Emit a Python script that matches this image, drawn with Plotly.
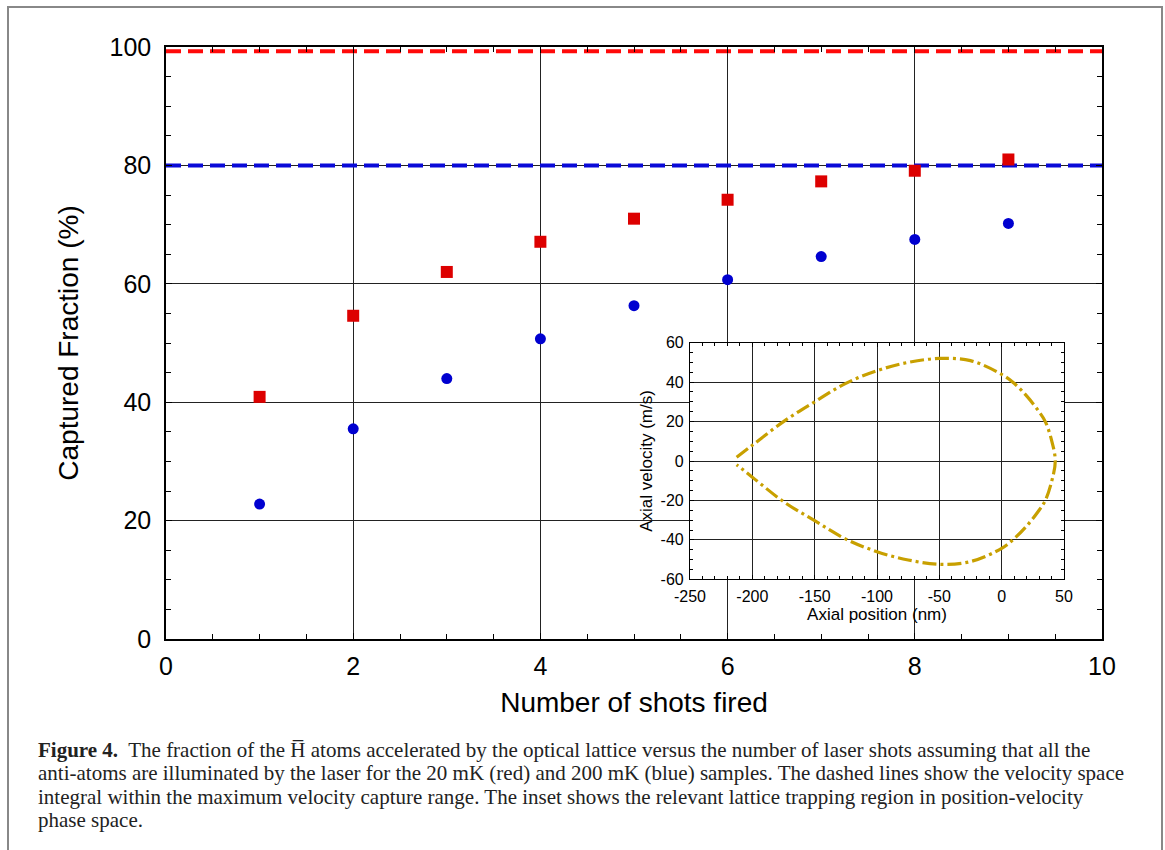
import plotly.graph_objects as go

# ---------------- data ----------------
shots = [1, 2, 3, 4, 5, 6, 7, 8, 9]
red_20mK = [40.9, 54.6, 62.0, 67.1, 71.0, 74.2, 77.3, 79.1, 81.0]
blue_200mK = [22.8, 35.5, 44.0, 50.7, 56.3, 60.7, 64.6, 67.5, 70.2]
red_limit = 99.3
blue_limit = 80.0
limit_x = [0, 10]

# inset separatrix (axial position nm, axial velocity m/s)
sep_x = [-212.6, -200, -175, -150, -125, -100, -75, -50, -25, 0, 10, 20, 30, 35, 40, 43,
         40, 35, 30, 20, 10, 0, -25, -50, -75, -100, -125, -150, -175, -200, -212.6]
sep_v = [1.9, 8.0, 20.0, 30.0, 39.4, 45.8, 50.0, 52.0, 50.9, 43.9, 39.4, 33.0, 25.0, 20.0, 10.6, 0.0,
         -10.6, -20.0, -25.0, -33.0, -39.4, -44.3, -51.0, -52.4, -50.2, -46.0, -39.6, -30.3, -20.6, -8.2, -1.9]

inset_x_ticks = [-250, -200, -150, -100, -50, 0, 50]
inset_x_labels = ["-250", "-200", "-150", "-100", "-50", "0", "50"]
inset_y_ticks = [-60, -40, -20, 0, 20, 40, 60]
inset_y_labels = ["-60", "-40", "-20", "0", "20", "40", "60"]

caption_lines = [
    "<b>Figure 4.</b>  The fraction of the H\u0305 atoms accelerated by the optical lattice versus the number of laser shots assuming that all the",
    "anti-atoms are illuminated by the laser for the 20 mK (red) and 200 mK (blue) samples. The dashed lines show the velocity space",
    "integral within the maximum velocity capture range. The inset shows the relevant lattice trapping region in position-velocity",
    "phase space.",
]

# ---------------- figure ----------------
W, H = 1165, 850
L, R, T, B = 166, 1165 - 1102, 47, 850 - 639
PW, PH = W - L - R, H - T - B


def px2paper_x(px):
    return (px - L) / PW


def py2paper_y(py):
    return (H - B - py) / PH


fig = go.Figure()

fig.add_trace(go.Scatter(x=limit_x, y=[red_limit, red_limit], mode="lines",
                         line=dict(color="#ff0a0a", width=4, dash="15px,7px"),
                         showlegend=False, hoverinfo="skip"))
fig.add_trace(go.Scatter(x=limit_x, y=[blue_limit, blue_limit], mode="lines",
                         line=dict(color="#0a0ad8", width=4, dash="15px,7px"),
                         showlegend=False, hoverinfo="skip"))
fig.add_trace(go.Scatter(x=shots, y=red_20mK, mode="markers",
                         marker=dict(symbol="square", size=12, color="#dd0000"),
                         showlegend=False))
fig.add_trace(go.Scatter(x=shots, y=blue_200mK, mode="markers",
                         marker=dict(symbol="circle", size=11, color="#0000d0"),
                         showlegend=False))

# inset
fig.add_trace(go.Scatter(x=sep_x, y=sep_v, mode="lines", xaxis="x2", yaxis="y2",
                         line=dict(color="#c8a000", width=3.2, shape="spline",
                                   dash="14px,4px,3px,4px"),
                         showlegend=False))

axis_common = dict(showline=True, linecolor="black", linewidth=1.5, mirror="ticks",
                   ticks="inside", tickcolor="black", showgrid=True,
                   gridcolor="#222222", gridwidth=1, zeroline=False)

inset_x0, inset_x1 = px2paper_x(690), px2paper_x(1064)
inset_y0, inset_y1 = py2paper_y(579.3), py2paper_y(342.7)

fig.update_layout(
    width=W, height=H,
    margin=dict(l=L, r=R, t=T, b=B),
    paper_bgcolor="white", plot_bgcolor="white",
    font=dict(family="Liberation Sans, Arial, sans-serif", color="black"),
    xaxis=dict(axis_common, range=[0, 10], dtick=2, ticklen=6,
               tickfont=dict(size=25), ticklabelstandoff=4,
               minor=dict(dtick=0.5, ticks="inside", ticklen=5, tickcolor="black", showgrid=False),
               title=dict(text="Number of shots fired", font=dict(size=28), standoff=14)),
    yaxis=dict(axis_common, range=[0, 100], dtick=20, ticklen=6,
               tickfont=dict(size=25), ticklabelstandoff=8,
               minor=dict(dtick=5, ticks="inside", ticklen=5, tickcolor="black", showgrid=False),
               title=dict(text="Captured Fraction (%)", font=dict(size=28), standoff=23)),
    xaxis2=dict(axis_common, domain=[inset_x0, inset_x1], anchor="y2", range=[-250, 50],
                tickvals=inset_x_ticks, ticktext=inset_x_labels,
                ticklen=4, linewidth=1.2, tickfont=dict(size=16), ticklabelstandoff=2,
                minor=dict(dtick=10, ticks="inside", ticklen=3, tickcolor="black", showgrid=False),
                title=dict(text="Axial position (nm)", font=dict(size=17), standoff=3)),
    yaxis2=dict(axis_common, domain=[inset_y0, inset_y1], anchor="x2", range=[-60, 60],
                tickvals=inset_y_ticks, ticktext=inset_y_labels,
                ticklen=4, linewidth=1.2, tickfont=dict(size=16), ticklabelstandoff=2,
                minor=dict(dtick=5, ticks="inside", ticklen=3, tickcolor="black", showgrid=False),
                title=dict(text="Axial velocity (m/s)", font=dict(size=17), standoff=3)),
)

# white panel behind the inset hiding the main grid
fig.add_shape(type="rect", xref="paper", yref="paper",
              x0=px2paper_x(620), x1=px2paper_x(1078),
              y0=py2paper_y(628), y1=py2paper_y(327),
              fillcolor="white", line=dict(width=0), layer="between")

# page frame
fig.add_shape(type="rect", xref="paper", yref="paper",
              x0=px2paper_x(8), x1=px2paper_x(1162), y0=py2paper_y(870), y1=py2paper_y(7),
              line=dict(color="#888888", width=2), fillcolor="rgba(0,0,0,0)", layer="above")

for i, txt in enumerate(caption_lines):
    fig.add_annotation(text=txt, xref="paper", yref="paper",
                       x=px2paper_x(36), y=py2paper_y(750 + 23.4 * i),
                       xanchor="left", yanchor="middle", showarrow=False, align="left",
                       font=dict(family="Liberation Serif, DejaVu Serif, serif", size=21, color="#222222"))

fig.write_html("out.html", config={"displayModeBar": False},
               post_script="document.body.style.margin='0px';")
